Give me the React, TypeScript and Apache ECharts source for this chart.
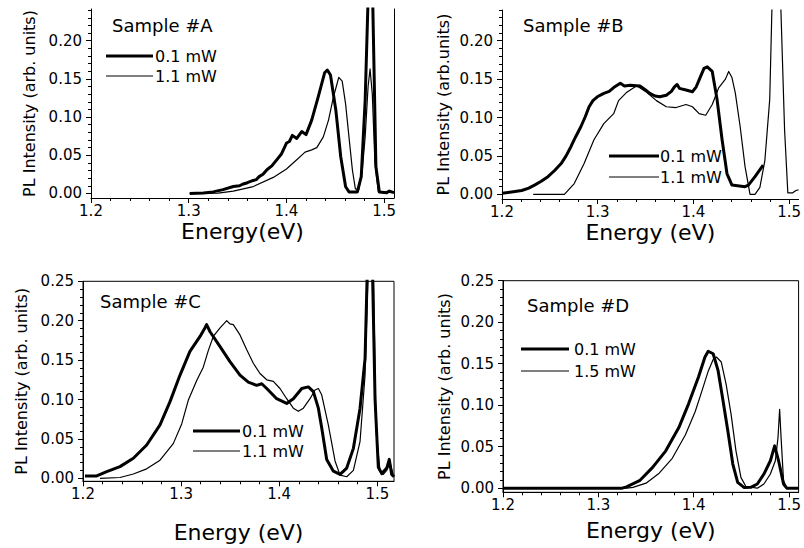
import React, { useEffect, useRef } from "react";
import * as echarts from "echarts";

// ---------- data ----------
const xMajorTicks = [1.2, 1.3, 1.4, 1.5];
const xMinorTicks = [1.22, 1.24, 1.26, 1.28, 1.32, 1.34, 1.36, 1.38, 1.42, 1.44, 1.46, 1.48];
const yMajorTicks = [0, 0.05, 0.1, 0.15, 0.2, 0.25];
const yMinorTicks = [0.01, 0.02, 0.03, 0.04, 0.06, 0.07, 0.08, 0.09, 0.11, 0.12, 0.13, 0.14, 0.16, 0.17, 0.18, 0.19, 0.21, 0.22, 0.23, 0.24];

const panelTitles = ["Sample #A", "Sample #B", "Sample #C", "Sample #D"];
const legendNames = [
  ["0.1 mW", "1.1 mW"],
  ["0.1 mW", "1.1 mW"],
  ["0.1 mW", "1.1 mW"],
  ["0.1 mW", "1.5 mW"],
];
const xAxisNames = ["Energy(eV)", "Energy (eV)", "Energy (eV)", "Energy (eV)"];
const yAxisNames = ["PL Intensity (arb. units)", "PL Intensity (arb.units)", "PL Intensity (arb. units)", "PL Intensity (arb. units)"];

const sampleA_01 = [
  [1.301, 0], [1.315, 0.0005], [1.325, 0.002], [1.335, 0.005], [1.3456, 0.009], [1.352, 0.01], [1.355, 0.012], [1.36, 0.014],
  [1.366, 0.017], [1.369, 0.018], [1.372, 0.022], [1.376, 0.025], [1.38, 0.031], [1.385, 0.036], [1.39, 0.044], [1.395, 0.052], [1.4, 0.066],
  [1.403, 0.068], [1.406, 0.076], [1.4105, 0.072], [1.4156, 0.081], [1.42, 0.077], [1.4258, 0.096],
  [1.4326, 0.127], [1.439, 0.158], [1.4418, 0.1616], [1.445, 0.155], [1.4505, 0.109], [1.4555, 0.048],
  [1.4605, 0.0087], [1.464, 0.002], [1.4725, 0.002], [1.4765, 0.022], [1.4805, 0.122], [1.4845, 0.3],
  [1.4875, 0.3], [1.4915, 0.035], [1.495, 0.002], [1.5025, 0.001], [1.5052, 0.003], [1.51, 0.001],
];
const sampleA_11 = [
  [1.301, 0], [1.33, 0.0005], [1.3456, 0.003], [1.366, 0.009], [1.3865, 0.021], [1.4, 0.032], [1.4105, 0.044],
  [1.419, 0.054], [1.4258, 0.057], [1.431, 0.06], [1.4377, 0.074], [1.443, 0.096], [1.448, 0.126],
  [1.4514, 0.142], [1.4535, 0.152], [1.457, 0.147], [1.4605, 0.117], [1.464, 0.073], [1.4675, 0.03],
  [1.4705, 0.006], [1.474, 0.005], [1.4775, 0.03], [1.4805, 0.074], [1.4835, 0.14], [1.4855, 0.163],
  [1.4878, 0.13], [1.4905, 0.04], [1.494, 0.002], [1.51, 0.001],
];
const sampleB_01 = [
  [1.2, 0.0013], [1.21, 0.003], [1.2206, 0.005], [1.228, 0.008], [1.234, 0.012], [1.241, 0.017], [1.248, 0.023],
  [1.255, 0.031], [1.2618, 0.04], [1.267, 0.05], [1.272, 0.062], [1.277, 0.075], [1.2824, 0.088], [1.287, 0.101],
  [1.291, 0.114], [1.295, 0.122], [1.2996, 0.127], [1.3064, 0.1315], [1.312, 0.134], [1.3167, 0.139],
  [1.3236, 0.1445], [1.328, 0.141], [1.3339, 0.142], [1.3442, 0.141], [1.35, 0.136], [1.3545, 0.1315],
  [1.36, 0.128], [1.3648, 0.127], [1.3717, 0.129], [1.377, 0.134], [1.3802, 0.14], [1.383, 0.143],
  [1.3854, 0.138], [1.3923, 0.1358], [1.399, 0.1336], [1.403, 0.14], [1.406, 0.149], [1.4111, 0.164],
  [1.4145, 0.166], [1.4197, 0.16], [1.4248, 0.123], [1.43, 0.071], [1.4351, 0.027], [1.4403, 0.012],
  [1.454, 0.01], [1.4575, 0.012], [1.4644, 0.023], [1.4729, 0.038],
];
const sampleB_11 = [
  [1.2326, 0], [1.2652, 0], [1.2755, 0.014], [1.2858, 0.04], [1.2961, 0.071], [1.3064, 0.092], [1.3167, 0.105],
  [1.3218, 0.122], [1.3305, 0.133], [1.3408, 0.1415], [1.3511, 0.133], [1.3614, 0.122], [1.3717, 0.114],
  [1.382, 0.113], [1.3923, 0.117], [1.399, 0.114], [1.406, 0.105], [1.4129, 0.103], [1.4197, 0.117],
  [1.4266, 0.139], [1.4335, 0.15], [1.4369, 0.16], [1.4403, 0.152], [1.4438, 0.132], [1.4489, 0.088],
  [1.454, 0.036], [1.4592, 0], [1.4644, 0], [1.4695, 0.009], [1.4747, 0.044], [1.4798, 0.124], [1.4832, 0.3],
  [1.49, 0.3], [1.4953, 0.084], [1.4987, 0.002], [1.5038, 0.002], [1.5072, 0.005], [1.51, 0.006],
];
const sampleC_01 = [
  [1.202, 0.003], [1.214, 0.003], [1.2242, 0.0085], [1.2377, 0.0148], [1.2513, 0.0254], [1.2649, 0.0423],
  [1.2785, 0.0677], [1.2887, 0.0973], [1.2989, 0.131], [1.309, 0.161], [1.3193, 0.18], [1.3244, 0.191],
  [1.326, 0.195], [1.3295, 0.186], [1.3397, 0.167], [1.3498, 0.148], [1.36, 0.131], [1.3685, 0.122],
  [1.377, 0.118], [1.3822, 0.12], [1.3873, 0.114], [1.3974, 0.101], [1.4076, 0.095], [1.4144, 0.101],
  [1.423, 0.114], [1.4297, 0.116], [1.4348, 0.11], [1.4399, 0.089], [1.4433, 0.064], [1.4484, 0.024],
  [1.4552, 0.009], [1.462, 0.005], [1.4688, 0.013], [1.4756, 0.038], [1.4824, 0.089], [1.4875, 0.152],
  [1.4905, 0.3], [1.4945, 0.3], [1.4977, 0.1], [1.501, 0.014], [1.5045, 0.006], [1.5096, 0.013],
  [1.5122, 0.024], [1.5146, 0.005], [1.517, 0.002],
];
const sampleC_11 = [
  [1.2173, 0], [1.2377, 0.001], [1.2513, 0.0055], [1.2649, 0.012], [1.2785, 0.023], [1.292, 0.044],
  [1.3006, 0.069], [1.3073, 0.099], [1.3159, 0.124], [1.3226, 0.141], [1.3277, 0.162], [1.3328, 0.18],
  [1.3397, 0.191], [1.3465, 0.2], [1.3498, 0.196], [1.3532, 0.195], [1.36, 0.182], [1.3669, 0.163],
  [1.3736, 0.146], [1.3804, 0.133], [1.3873, 0.125], [1.394, 0.123], [1.4008, 0.114], [1.4076, 0.101],
  [1.4144, 0.089], [1.4195, 0.085], [1.4246, 0.089], [1.4314, 0.101], [1.4365, 0.112], [1.4399, 0.114],
  [1.4433, 0.106], [1.45, 0.068], [1.4569, 0.022], [1.462, 0.004], [1.4688, 0.002], [1.4756, 0.01],
  [1.4824, 0.047], [1.4875, 0.131], [1.4915, 0.3], [1.4955, 0.3], [1.4987, 0.06], [1.5028, 0.009],
  [1.5061, 0.005], [1.5096, 0.01], [1.513, 0.02], [1.5163, 0.004],
];
const sampleD_01 = [
  [1.2, 0], [1.325, 0], [1.3295, 0.0016], [1.3432, 0.009], [1.3569, 0.025], [1.3707, 0.045], [1.3844, 0.073],
  [1.3946, 0.1016], [1.405, 0.134], [1.4118, 0.158], [1.4152, 0.165], [1.4204, 0.162], [1.4255, 0.142],
  [1.4307, 0.1055], [1.4358, 0.069], [1.441, 0.029], [1.4461, 0.007], [1.453, 0.0007], [1.4598, 0.001],
  [1.4667, 0.005], [1.4736, 0.017], [1.4804, 0.033], [1.4849, 0.051], [1.489, 0.033], [1.4942, 0.005],
  [1.4976, 0], [1.51, 0],
];
const sampleD_15 = [
  [1.2, 0], [1.33, 0], [1.3363, 0.001], [1.35, 0.006], [1.3638, 0.018], [1.3775, 0.036], [1.3912, 0.064],
  [1.4015, 0.092], [1.4083, 0.116], [1.4152, 0.141], [1.4204, 0.155], [1.4238, 0.158], [1.4289, 0.152],
  [1.434, 0.125], [1.4392, 0.089], [1.4443, 0.045], [1.4495, 0.013], [1.4547, 0.002], [1.4667, 0],
  [1.4736, 0.005], [1.4804, 0.017], [1.4856, 0.033], [1.4884, 0.061], [1.4901, 0.095], [1.4918, 0.057],
  [1.4942, 0.009], [1.4976, 0], [1.51, 0],
];

const seriesData = [
  [sampleA_01, sampleA_11],
  [sampleB_01, sampleB_11],
  [sampleC_01, sampleC_11],
  [sampleD_01, sampleD_15],
];

// ---------- layout ----------
const FONT = "DejaVu Sans";
const panels = [
  { left: 91, top: 9, width: 303, height: 189, xMax: 1.51, yMin: -0.006, yMax: 0.2415, yGap: 54, xGap: 22, border: false, rightLine: true,
    title: [112, 25], legend: { x1: 106, x2: 153, tx: 155, y: [56, 76] } },
  { left: 502, top: 10, width: 301, height: 189, xMax: 1.51, yMin: -0.0061, yMax: 0.24, yGap: 51, xGap: 22, border: false, rightLine: false,
    title: [523, 25], legend: { x1: 609, x2: 659, tx: 660, y: [156, 177] } },
  { left: 83, top: 281.3, width: 311, height: 200, xMax: 1.517, yMin: -0.0038, yMax: 0.25, yGap: 54, xGap: 40, border: true, rightLine: false,
    title: [100, 301], legend: { x1: 193, x2: 240, tx: 242, y: [431, 451] } },
  { left: 503, top: 280.7, width: 301, height: 211.6, xMax: 1.51, yMin: -0.005, yMax: 0.25, yGap: 51, xGap: 27, border: true, rightLine: false,
    title: [527, 305], legend: { x1: 521, x2: 569, tx: 574, y: [349, 371] } },
];

const THICK = 3;
const THIN = 1.2;

function inRange(vals: number[], lo: number, hi: number) {
  return vals.filter((v) => v >= lo - 1e-9 && v <= hi + 1e-9);
}

function buildOption() {
  const grid: any[] = [];
  const xAxis: any[] = [];
  const yAxis: any[] = [];
  const series: any[] = [];
  const graphic: any[] = [];
  const axisLine = { show: true, lineStyle: { color: "#000", width: 1 } };
  const labelStyle = { color: "#000", fontFamily: FONT, fontSize: 15 };

  panels.forEach((p, g) => {
    grid.push({
      left: p.left, top: p.top, width: p.width, height: p.height,
      show: p.border, borderColor: "#000", borderWidth: 1, backgroundColor: "transparent",
    });
    xAxis.push({
      type: "value", gridIndex: g, position: "bottom", min: 1.2, max: p.xMax,
      name: xAxisNames[g], nameLocation: "middle", nameGap: p.xGap,
      nameTextStyle: { color: "#000", fontFamily: FONT, fontSize: 22, verticalAlign: "top" },
      axisLine: { ...axisLine, onZero: false },
      axisTick: { show: true, inside: false, length: 5, customValues: xMajorTicks, lineStyle: { color: "#000" } },
      axisLabel: { ...labelStyle, margin: 5, customValues: xMajorTicks, formatter: (v: number) => v.toFixed(1) },
      splitLine: { show: false },
    });
    xAxis.push({
      type: "value", gridIndex: g, position: "bottom", min: 1.2, max: p.xMax,
      axisLine: { show: false, onZero: false },
      axisTick: { show: true, inside: false, length: 3, customValues: inRange(xMinorTicks, 1.2, p.xMax), lineStyle: { color: "#000" } },
      axisLabel: { show: false },
      splitLine: { show: false },
    });
    const yMaj = inRange(yMajorTicks, p.yMin, p.yMax);
    yAxis.push({
      type: "value", gridIndex: g, position: "left", min: p.yMin, max: p.yMax,
      name: yAxisNames[g], nameLocation: "middle", nameGap: p.yGap, nameRotate: 90,
      nameTextStyle: { color: "#000", fontFamily: FONT, fontSize: 16 },
      axisLine: { ...axisLine, onZero: false },
      axisTick: { show: true, inside: false, length: 5, customValues: yMaj, lineStyle: { color: "#000" } },
      axisLabel: { ...labelStyle, margin: 9, customValues: yMaj, formatter: (v: number) => v.toFixed(2) },
      splitLine: { show: false },
    });
    yAxis.push({
      type: "value", gridIndex: g, position: "left", min: p.yMin, max: p.yMax,
      axisLine: { show: false, onZero: false },
      axisTick: { show: true, inside: false, length: 3, customValues: inRange(yMinorTicks, p.yMin, p.yMax), lineStyle: { color: "#000" } },
      axisLabel: { show: false },
      splitLine: { show: false },
    });

    const [thick, thin] = seriesData[g];
    series.push({
      type: "line", name: legendNames[g][0], xAxisIndex: 2 * g, yAxisIndex: 2 * g, data: thick,
      showSymbol: false, symbol: "none", clip: true, lineStyle: { color: "#000", width: THICK, join: "round" },
    });
    series.push({
      type: "line", name: legendNames[g][1], xAxisIndex: 2 * g, yAxisIndex: 2 * g, data: thin,
      showSymbol: false, symbol: "none", clip: true, lineStyle: { color: "#000", width: THIN, join: "round" },
    });

    graphic.push({
      type: "text", x: p.title[0], y: p.title[1],
      style: { text: panelTitles[g], font: `18px "${FONT}"`, fill: "#000", textAlign: "left", textVerticalAlign: "middle", align: "left", verticalAlign: "middle" },
    });
    [THICK, THIN].forEach((w, i) => {
      graphic.push({
        type: "line", shape: { x1: p.legend.x1, y1: p.legend.y[i], x2: p.legend.x2, y2: p.legend.y[i] },
        style: { stroke: "#000", lineWidth: w },
      });
      graphic.push({
        type: "text", x: p.legend.tx, y: p.legend.y[i],
        style: { text: legendNames[g][i], font: `16px "${FONT}"`, fill: "#000", textAlign: "left", textVerticalAlign: "middle", align: "left", verticalAlign: "middle" },
      });
    });
  });

  panels.forEach((p, g) => {
    if (p.rightLine) {
      yAxis.push({
        type: "value", gridIndex: g, position: "right", min: p.yMin, max: p.yMax,
        axisLine: { show: true, onZero: false, lineStyle: { color: "#000", width: 1 } },
        axisTick: { show: false }, axisLabel: { show: false }, splitLine: { show: false },
      });
    }
  });

  return {
    animation: false,
    backgroundColor: "#fff",
    grid, xAxis, yAxis, series, graphic,
  };
}

export default function App() {
  const ref = useRef<HTMLDivElement>(null);
  useEffect(() => {
    document.body.style.margin = "0";
    const chart = echarts.init(ref.current!, undefined, { renderer: "svg" });
    chart.setOption(buildOption() as any);
    return () => chart.dispose();
  }, []);
  return <div ref={ref} style={{ position: "absolute", left: 0, top: 0, width: 804, height: 548 }} />;
}
